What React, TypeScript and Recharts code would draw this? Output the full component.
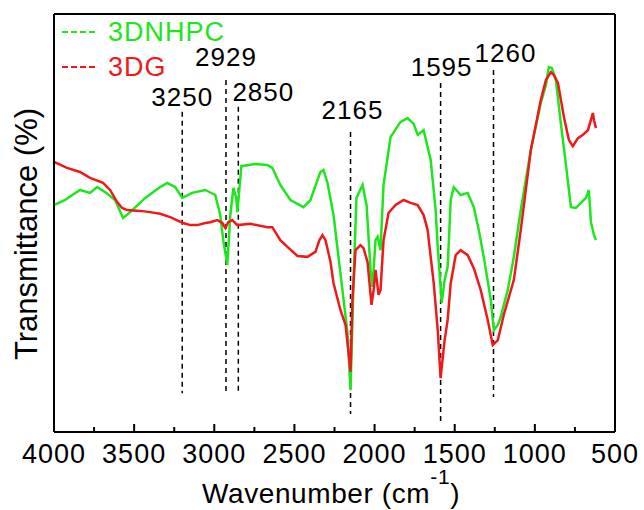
import { LineChart, Line, XAxis, YAxis, ReferenceLine, CartesianGrid } from 'recharts';

// wavenumbers (cm-1) and transmittance (a.u., 0-100)
const nhpcWavenumber = [
  4000, 3931, 3838, 3775, 3731, 3681, 3619, 3569, 3525, 3431, 3338, 3294, 3244, 3200, 3138, 3056,
  2994, 2963, 2944, 2919, 2900, 2881, 2863, 2856, 2844, 2831, 2744, 2669, 2638, 2588, 2525, 2444,
  2400, 2356, 2338, 2319, 2294, 2256, 2213, 2169, 2150, 2131, 2113, 2075, 2050, 2025, 2013, 1994,
  1981, 1963, 1944, 1900, 1838, 1794, 1756, 1731, 1694, 1650, 1619, 1606, 1581, 1563, 1544, 1525,
  1506, 1463, 1419, 1381, 1350, 1319, 1275, 1256, 1231, 1213, 1169, 1131, 1088, 1025, 963, 931,
  913, 894, 869, 838, 806, 775, 744, 713, 681, 663, 650, 631, 619,
];
const nhpcTransmittance = [
  54.3, 55.5, 57.9, 57.2, 58.6, 57.4, 55.5, 51.2, 52.6, 56.0, 58.6, 59.6, 58.6, 56.0, 57.2, 57.9,
  56.7, 51.9, 45.9, 40.0, 51.9, 58.4, 56.0, 52.6, 57.9, 63.6, 64.1, 63.9, 63.2, 59.1, 55.5, 53.8,
  55.5, 60.3, 62.2, 62.7, 59.6, 51.9, 38.0, 23.7, 10.0, 36.4, 56.0, 59.1, 54.3, 38.8, 34.7, 45.9,
  46.7, 43.5, 59.1, 70.6, 74.2, 75.1, 73.7, 71.1, 72.2, 65.1, 53.1, 44.3, 30.9, 36.4, 39.5, 55.5,
  58.6, 56.7, 57.2, 53.8, 48.3, 41.9, 31.6, 24.4, 25.6, 27.5, 34.0, 41.9, 53.1, 67.5, 78.7, 83.0,
  87.3, 87.1, 84.2, 73.9, 63.9, 53.8, 53.6, 54.8, 56.0, 57.9, 50.2, 47.1, 45.9,
];

const dgWavenumber = [
  4000, 3919, 3838, 3775, 3694, 3650, 3606, 3575, 3544, 3463, 3400, 3338, 3275, 3225, 3194, 3150,
  3106, 3056, 3025, 2981, 2950, 2931, 2913, 2888, 2856, 2775, 2669, 2638, 2588, 2544, 2481, 2419,
  2369, 2344, 2325, 2306, 2275, 2256, 2213, 2181, 2150, 2138, 2119, 2088, 2069, 2044, 2019, 2006,
  1994, 1975, 1963, 1944, 1913, 1869, 1819, 1775, 1731, 1694, 1669, 1631, 1606, 1588, 1563, 1544,
  1525, 1494, 1463, 1419, 1381, 1338, 1294, 1263, 1231, 1194, 1131, 1088, 1025, 963, 931, 900,
  881, 856, 819, 788, 763, 731, 700, 669, 638, 631, 619,
];
const dgTransmittance = [
  64.6, 63.2, 62.2, 60.8, 59.6, 57.9, 55.0, 53.6, 53.1, 52.9, 52.6, 52.2, 51.4, 50.5, 50.0, 49.5,
  49.5, 50.0, 50.2, 50.7, 50.0, 48.8, 50.2, 50.7, 49.5, 49.8, 49.0, 49.0, 45.9, 44.3, 42.1, 41.9,
  43.1, 45.9, 47.1, 45.9, 40.7, 35.6, 29.2, 25.6, 14.4, 31.6, 43.5, 44.7, 44.0, 40.7, 30.4, 34.0,
  38.8, 32.8, 34.0, 45.9, 52.4, 54.3, 55.5, 54.8, 54.3, 51.9, 48.3, 35.6, 24.4, 12.9, 22.0, 26.8,
  35.6, 42.3, 43.5, 42.3, 39.2, 34.0, 26.8, 20.8, 22.0, 28.0, 36.4, 48.3, 67.5, 79.4, 84.2, 86.1,
  85.4, 83.5, 75.4, 69.9, 68.4, 70.3, 71.1, 72.2, 76.3, 74.6, 72.7,
];

const xTicks = [
  4000, 3750, 3500, 3250, 3000, 2750, 2500, 2250, 2000, 1750, 1500, 1250, 1000, 750, 500,
];

// marked bands: label, drawn position, dashed span (a.u.)
const markerLabels = ['3250', '2929', '2850', '2165', '1595', '1260'];
const markerWavenumber = [3200, 2927, 2850, 2150, 1588, 1258];
const markerTop = [76.6, 84.2, 77.8, 71.8, 83.5, 86.6];
const markerBottom = [9.3, 9.8, 9.3, 4.3, 2.2, 8.4];
const markerDx = [0, 0, 25, 2, 1, 12];
const markerDy = [-15, -23, -15, -22, -16, -17];

const seriesNames = ['3DNHPC', '3DG'];

const nhpcData = nhpcWavenumber.map((wn, i) => ({ wn, v: nhpcTransmittance[i] }));
const dgData = dgWavenumber.map((wn, i) => ({ wn, v: dgTransmittance[i] }));

const FONT = '"Liberation Sans", Arial, sans-serif';
const GREEN = '#1ee61e';
const RED = '#ee1a1a';

const MARGIN = { top: 14, right: 29, left: 0, bottom: 0 };
const Y_AXIS_W = 54;
const X_AXIS_H = 78;

const XTick = (props: any) => {
  const { x, y, payload } = props;
  const major = payload.value % 500 === 0;
  return (
    <g>
      <line x1={x} x2={x} y1={y} y2={y - (major ? 8 : 5)} stroke="#000" strokeWidth={2} />
      {major && (
        <text x={x} y={y + 31} textAnchor="middle" fontFamily={FONT} fontSize={27} letterSpacing={1} fill="#000">
          {payload.value}
        </text>
      )}
    </g>
  );
};

const MarkerLabel = (props: any) => {
  const { viewBox, text, dx, dy } = props;
  return (
    <text
      x={viewBox.x + dx}
      y={viewBox.y + dy}
      textAnchor="middle"
      dominantBaseline="central"
      fontFamily={FONT}
      fontSize={26}
      letterSpacing={1}
      fill="#000"
    >
      {text}
    </text>
  );
};

const XTitle = () => (
  <text x={202} y={503} fontFamily={FONT} fontSize={28} letterSpacing={0.6} fill="#000">
    Wavenumber (cm
    <tspan fontSize={21} dy={-19}>-1</tspan>
    <tspan dy={19}>)</tspan>
  </text>
);

const YTitle = () => (
  <text
    x={37}
    y={234}
    transform="rotate(-90 37 234)"
    textAnchor="middle"
    fontFamily={FONT}
    fontSize={31}
    fill="#000"
  >
    Transmittance (%)
  </text>
);

const LegendBox = () => (
  <svg width={200} height={90} style={{ position: 'absolute', left: 58, top: 14 }}>
    {[GREEN, RED].map((color, i) => {
      const y = 18 + i * 35;
      return (
        <g key={seriesNames[i]}>
          <line x1={4} x2={40} y1={y} y2={y} stroke={color} strokeWidth={2} strokeDasharray="6 3" />
          <text x={50} y={y} dominantBaseline="central" fontFamily={FONT} fontSize={27} letterSpacing={1} fill={color}>
            {seriesNames[i]}
          </text>
        </g>
      );
    })}
  </svg>
);

export default function App() {
  return (
    <div style={{ position: 'absolute', left: 0, top: 0, width: 644, height: 510, background: '#fff' }}>
      <LineChart width={644} height={510} margin={MARGIN}>
        {/* top and right edges of the frame */}
        <CartesianGrid
          stroke="#000"
          strokeWidth={2}
          strokeDasharray="0"
          horizontalCoordinatesGenerator={({ offset }: any) => [offset.top]}
          verticalCoordinatesGenerator={({ offset }: any) => [offset.left + offset.width]}
        />
        <XAxis
          dataKey="wn"
          type="number"
          domain={[500, 4000]}
          reversed
          ticks={xTicks}
          interval={0}
          allowDataOverflow
          height={X_AXIS_H}
          tickLine={false}
          tickSize={0}
          tickMargin={0}
          tick={<XTick />}
          axisLine={{ stroke: '#000', strokeWidth: 2 }}
          label={<XTitle />}
        />
        <YAxis
          type="number"
          domain={[0, 100]}
          width={Y_AXIS_W}
          tick={false}
          tickLine={false}
          axisLine={{ stroke: '#000', strokeWidth: 2 }}
          label={<YTitle />}
        />
        {markerLabels.map((lab, i) => (
          <ReferenceLine
            key={lab}
            segment={[
              { x: markerWavenumber[i], y: markerTop[i] },
              { x: markerWavenumber[i], y: markerBottom[i] },
            ]}
            stroke="#000"
            strokeWidth={1.5}
            strokeDasharray="5 4"
            ifOverflow="visible"
            label={<MarkerLabel text={lab} dx={markerDx[i]} dy={markerDy[i]} />}
          />
        ))}
        <Line
          data={nhpcData}
          dataKey="v"
          name={seriesNames[0]}
          stroke={GREEN}
          strokeWidth={2.5}
          dot={false}
          isAnimationActive={false}
        />
        <Line
          data={dgData}
          dataKey="v"
          name={seriesNames[1]}
          stroke={RED}
          strokeWidth={2.5}
          dot={false}
          isAnimationActive={false}
        />
      </LineChart>
      <LegendBox />
    </div>
  );
}
